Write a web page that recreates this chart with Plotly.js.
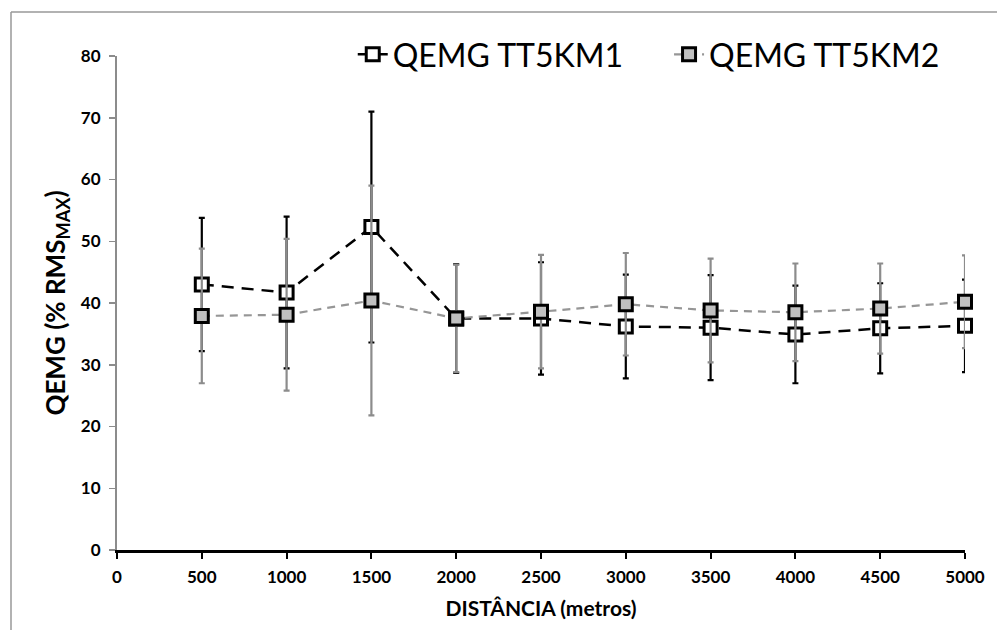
<!DOCTYPE html>
<html>
<head>
<meta charset="utf-8">
<script src="https://cdn.plot.ly/plotly-3.0.1.min.js"></script>
<style>html,body{margin:0;padding:0;background:#fff;}</style>
</head>
<body>
<div id="chart" style="width:997px;height:630px;"></div>
<script>
const distances = [500, 1000, 1500, 2000, 2500, 3000, 3500, 4000, 4500, 5000];
const tt5km1Mean = [43.0, 41.7, 52.3, 37.5, 37.5, 36.2, 36.0, 34.9, 35.9, 36.3];
const tt5km1SD   = [10.8, 12.3, 18.7, 8.8, 9.1, 8.4, 8.5, 7.9, 7.3, 7.5];
const tt5km2Mean = [37.9, 38.1, 40.4, 37.5, 38.6, 39.8, 38.8, 38.5, 39.1, 40.2];
const tt5km2SD   = [10.9, 12.3, 18.6, 8.7, 9.2, 8.3, 8.4, 7.9, 7.3, 7.5];
const seriesNames = ['QEMG TT5KM1', 'QEMG TT5KM2'];
const xTicks = [0, 500, 1000, 1500, 2000, 2500, 3000, 3500, 4000, 4500, 5000];
const yTicks = [0, 10, 20, 30, 40, 50, 60, 70, 80];

const traces = [
  {
    x: distances, y: tt5km1Mean, name: seriesNames[0], legend: 'legend',
    type: 'scatter', mode: 'lines+markers', cliponaxis: false,
    line: {color: '#000000', width: 2.5, dash: '12px,8px'},
    marker: {symbol: 'square', size: 13, color: '#ffffff', line: {color: '#000000', width: 3}},
    error_y: {type: 'data', array: tt5km1SD, visible: true, color: '#000000', thickness: 2.2, width: 3}
  },
  {
    x: distances, y: tt5km2Mean, name: seriesNames[1], legend: 'legend2',
    type: 'scatter', mode: 'lines+markers', cliponaxis: false,
    line: {color: '#969696', width: 2.2, dash: '8px,6px'},
    marker: {symbol: 'square', size: 13, color: '#c0c0c0', line: {color: '#000000', width: 3}},
    error_y: {type: 'data', array: tt5km2SD, visible: true, color: '#8c8c8c', thickness: 2.2, width: 3}
  }
];

const legendFont = {size: 32, family: 'Lato, sans-serif', color: '#000'};

const layout = {
  width: 997, height: 630,
  margin: {l: 117, r: 32, t: 56, b: 80, autoexpand: false},
  paper_bgcolor: '#ffffff', plot_bgcolor: '#ffffff',
  font: {family: 'Lato, "Open Sans", sans-serif', color: '#000000'},
  showlegend: true,
  legend: {
    orientation: 'h', x: 0.278, xanchor: 'left', y: 1.003, yanchor: 'middle',
    font: legendFont, bgcolor: 'rgba(0,0,0,0)'
  },
  legend2: {
    orientation: 'h', x: 0.651, xanchor: 'left', y: 1.003, yanchor: 'middle',
    font: legendFont, bgcolor: 'rgba(0,0,0,0)'
  },
  xaxis: {
    range: [0, 5000], tickvals: xTicks, ticktext: xTicks.map(String),
    showgrid: false, zeroline: false,
    showline: true, linecolor: '#000000', linewidth: 2.5,
    ticks: 'outside', ticklen: 6, tickwidth: 2, tickcolor: '#000000',
    ticklabelstandoff: 4,
    tickfont: {size: 17, family: 'Lato, sans-serif', weight: 'bold', color: '#000'},
    title: {text: '<b>DISTÂNCIA (metros)</b>', font: {size: 21, family: 'Lato, sans-serif', color: '#000'}, standoff: 16}
  },
  yaxis: {
    range: [0, 80], tickvals: yTicks, ticktext: yTicks.map(String),
    showgrid: false, zeroline: false,
    showline: true, linecolor: '#8c8c8c', linewidth: 2,
    ticks: 'outside', ticklen: 6, tickwidth: 1.5, tickcolor: '#8c8c8c',
    ticklabelstandoff: 5,
    tickfont: {size: 17, family: 'Lato, sans-serif', weight: 'bold', color: '#000'},
    title: {text: '<b>QEMG (% RMS<sub>MAX</sub>)</b>', font: {size: 26, family: 'Lato, sans-serif', color: '#000'}, standoff: 8}
  },
  shapes: [
    {type: 'line', xref: 'paper', yref: 'paper', x0: -0.125, x1: 1.05, y0: 1.089, y1: 1.089, line: {color: '#999999', width: 1.5}},
    {type: 'line', xref: 'paper', yref: 'paper', x0: -0.125, x1: -0.125, y0: 1.089, y1: -0.2, line: {color: '#999999', width: 1.5}}
  ]
};

Plotly.newPlot('chart', traces, layout, {displayModeBar: false, staticPlot: true});
</script>
</body>
</html>
